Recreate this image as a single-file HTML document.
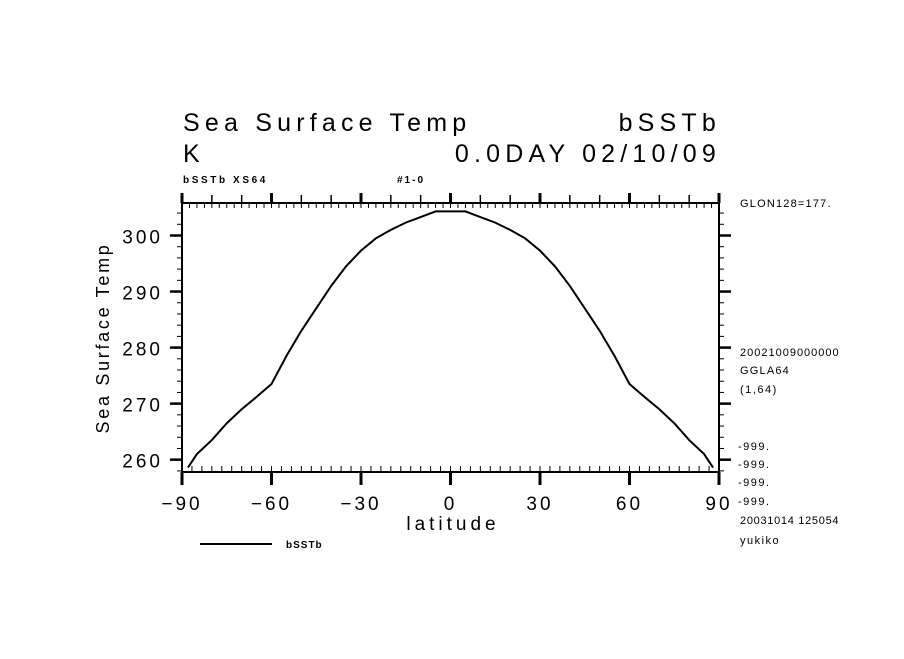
<!DOCTYPE html>
<html><head><meta charset="utf-8"><style>
body{margin:0;background:#fff}
svg text{font-family:"Liberation Sans",sans-serif;fill:#000}
</style></head><body>
<svg id="c" width="904" height="654" viewBox="0 0 904 654" xmlns="http://www.w3.org/2000/svg">
<g>
<text x="183" y="131" font-size="25" letter-spacing="5.2">Sea Surface Temp</text>
<text x="721" y="131" font-size="25" letter-spacing="5.2" text-anchor="end">bSSTb</text>
<text x="183" y="162" font-size="25">K</text>
<text x="721" y="162" font-size="25" letter-spacing="5.2" text-anchor="end">0.0DAY 02/10/09</text>
<text x="183" y="183" font-size="10" font-weight="bold" letter-spacing="2.6">bSSTb XS64</text>
<text x="397" y="183" font-size="10" font-weight="bold" letter-spacing="2">#1-0</text>
</g>
<g>
<text x="740" y="207" font-size="11" letter-spacing="1.2">GLON128=177.</text>
<text x="740" y="356" font-size="11" letter-spacing="1">20021009000000</text>
<text x="740" y="374" font-size="11" letter-spacing="1.2">GGLA64</text>
<text x="740" y="393" font-size="11" letter-spacing="1.5">(1,64)</text>
<text x="738" y="450" font-size="11" letter-spacing="1.5">-999.</text>
<text x="738" y="468" font-size="11" letter-spacing="1.5">-999.</text>
<text x="738" y="486" font-size="11" letter-spacing="1.5">-999.</text>
<text x="738" y="505" font-size="11" letter-spacing="1.5">-999.</text>
<text x="740" y="524" font-size="11" letter-spacing="0.7">20031014 125054</text>
<text x="740" y="544" font-size="11" letter-spacing="1.5">yukiko</text>
</g>
<g id="axes"></g>
<text x="453" y="530" font-size="19" letter-spacing="4" text-anchor="middle">latitude</text>
<text transform="translate(109,338) rotate(-90)" font-size="18" letter-spacing="2.7" text-anchor="middle">Sea Surface Temp</text>
<line x1="200" y1="544" x2="272" y2="544" stroke="#000" stroke-width="2"/>
<text x="286" y="548" font-size="10" font-weight="bold" letter-spacing="1">bSSTb</text>
</svg>
<script>
const lats=[-88,-85,-80,-75,-70,-65,-60,-55,-50,-45,-40,-35,-30,-25,-20,-15,-10,-5,0,5,10,15,20,25,30,35,40,45,50,55,60,65,70,75,80,85,88];
const sst=[258.6,261,263.5,266.5,269,271.2,273.5,278.5,283,287,291,294.5,297.3,299.5,301,302.3,303.3,304.3,304.3,304.3,303.3,302.3,301,299.5,297.3,294.5,291,287,283,278.5,273.5,271.2,269,266.5,263.5,261,258.6];
const xTicks=[-90,-60,-30,0,30,60,90];
const xTickLabels=["\u221290","\u221260","\u221230","0","30","60","90"];
const yTicks=[260,270,280,290,300];
const yTickLabels=["260","270","280","290","300"];
const L=182,R=719,T=203,B=472,xmin=-90,xmax=90,ymin=257.8,ymax=305.8;
const X=v=>L+(v-xmin)/(xmax-xmin)*(R-L);
const Y=v=>B-(v-ymin)/(ymax-ymin)*(B-T);
const NS="http://www.w3.org/2000/svg",g=document.getElementById('axes');
function ln(x1,y1,x2,y2,w,name){const e=document.createElementNS(NS,'line');
e.setAttribute('x1',x1);e.setAttribute('y1',y1);e.setAttribute('x2',x2);e.setAttribute('y2',y2);
e.setAttribute('stroke','#000');e.setAttribute('stroke-width',w);


g.appendChild(e);}
const fr=document.createElementNS(NS,'rect');
fr.setAttribute('x',L);fr.setAttribute('y',T);fr.setAttribute('width',R-L);fr.setAttribute('height',B-T);
fr.setAttribute('fill','none');fr.setAttribute('stroke','#000');fr.setAttribute('stroke-width',2);


g.appendChild(fr);
for(let v=-90;v<=90;v+=2.5){const x=X(v);ln(x,T,x,T+5,1,'top-minor-tick');}
for(let v=-90;v<=90;v+=10/3){const x=X(v);ln(x,B,x,B-6,1,'bottom-minor-tick');}
for(let v=-90;v<=90;v+=10){const x=X(v);ln(x,T,x,T-8,1.5,'top-tick');}
xTicks.forEach((v,i)=>{const x=X(v);ln(x,B,x,B+13,3,'x-major-tick');ln(x,T,x,T-10,3,'top-major-tick');
const t=document.createElementNS(NS,'text');t.setAttribute('x',x);t.setAttribute('y',B+38);
t.setAttribute('font-size','19');t.setAttribute('letter-spacing','3');t.setAttribute('text-anchor','middle');
t.textContent=xTickLabels[i];


g.appendChild(t);});
for(let v=258;v<=305;v+=2){const y=Y(v);ln(L,y,L-5,y,1,'y-minor-tick');ln(R,y,R+5,y,1,'y-right-minor-tick');}
yTicks.forEach((v,i)=>{const y=Y(v);ln(L,y,L-12,y,2.5,'y-major-tick');ln(R,y,R+12,y,2.5,'y-right-major-tick');
const t=document.createElementNS(NS,'text');t.setAttribute('x',163);t.setAttribute('y',y+8);
t.setAttribute('font-size','19');t.setAttribute('letter-spacing','3');t.setAttribute('text-anchor','end');
t.textContent=yTickLabels[i];


g.appendChild(t);});
const p=document.createElementNS(NS,'polyline');
p.setAttribute('points',lats.map((a,i)=>X(a)+','+Y(sst[i])).join(' '));
p.setAttribute('fill','none');p.setAttribute('stroke','#000');p.setAttribute('stroke-width','2');


g.appendChild(p);
</script>
</body></html>
